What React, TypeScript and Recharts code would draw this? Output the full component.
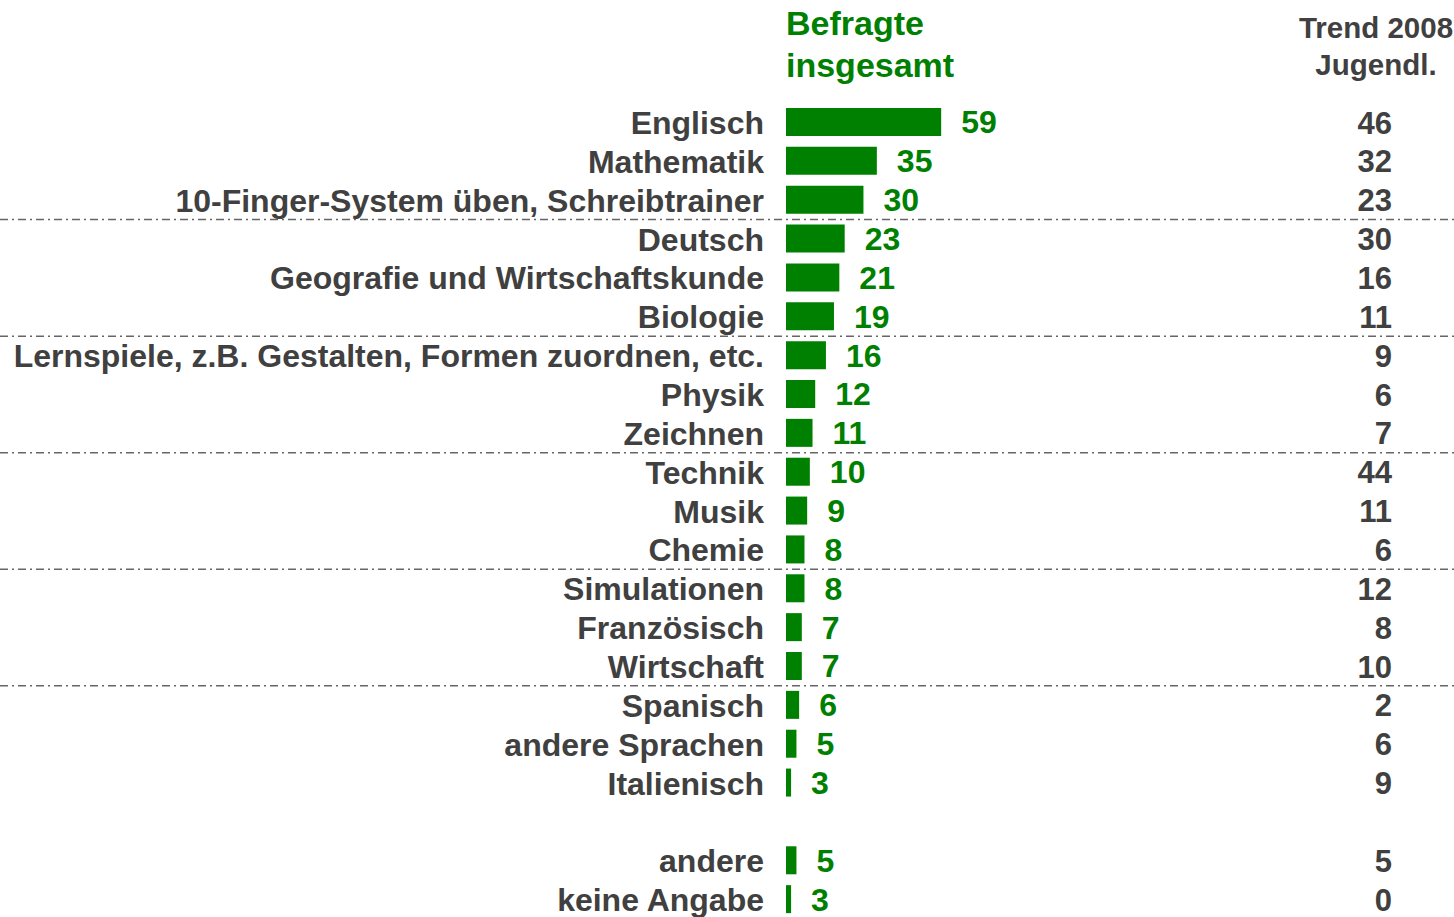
import { BarChart, Bar, XAxis, YAxis, LabelList } from 'recharts'

const categories = [
  'Englisch',
  'Mathematik',
  '10-Finger-System üben, Schreibtrainer',
  'Deutsch',
  'Geografie und Wirtschaftskunde',
  'Biologie',
  'Lernspiele, z.B. Gestalten, Formen zuordnen, etc.',
  'Physik',
  'Zeichnen',
  'Technik',
  'Musik',
  'Chemie',
  'Simulationen',
  'Französisch',
  'Wirtschaft',
  'Spanisch',
  'andere Sprachen',
  'Italienisch',
  ' ',
  'andere',
  'keine Angabe',
]

const befragte: (number | null)[] = [59, 35, 30, 23, 21, 19, 16, 12, 11, 10, 9, 8, 8, 7, 7, 6, 5, 3, null, 5, 3]
const trend2008: (number | null)[] = [46, 32, 23, 30, 16, 11, 9, 6, 7, 44, 11, 6, 12, 8, 10, 2, 6, 9, null, 5, 0]

// rows after which a dash-dot separator is drawn
const groupEnds = [2, 5, 8, 11, 14]

const data = categories.map((name, i) => ({ name, value: befragte[i], trend: trend2008[i] }))

const FONT = '"Liberation Sans", Arial, sans-serif'
const GREEN = '#008000'
const GREY = '#404040'
const W = 1454
const H = 919
const TOP = 103
const ROW = (H - TOP) / categories.length

const LeftTick = (props: any) => {
  const { x, y, payload, index } = props
  return (
    <g>
      <text x={x} y={y} dy='0.36em' textAnchor='end' fill={GREY} fontSize={32} fontWeight='bold' fontFamily={FONT}>
        {payload.value}
      </text>
      {groupEnds.includes(index) && (
        <line x1={0} x2={W} y1={y + ROW / 2} y2={y + ROW / 2} stroke='#666' strokeWidth={1.5} strokeDasharray='8 4 2 4' />
      )}
    </g>
  )
}

const RightTick = (props: any) => {
  const { x, y, index } = props
  const v = trend2008[index]
  if (v === null || v === undefined) return <g />
  return (
    <text x={x + 152} y={y} dy='0.36em' textAnchor='end' fill={GREY} fontSize={31} fontWeight='bold' fontFamily={FONT}>
      {v}
    </text>
  )
}

export default function App() {
  return (
    <div style={{ position: 'absolute', left: 0, top: 0, width: W, height: 917, overflow: 'hidden', fontFamily: FONT }}>
      <div style={{ position: 'absolute', left: 786, top: 2, color: GREEN, fontSize: 34, fontWeight: 'bold', lineHeight: '42px' }}>
        Befragte
        <br />
        insgesamt
      </div>
      <div style={{ position: 'absolute', left: 1276, width: 200, top: 9, color: GREY, fontSize: 29.5, fontWeight: 'bold', lineHeight: '37px', textAlign: 'center' }}>
        Trend 2008
        <br />
        Jugendl.
      </div>
      <BarChart
        width={W}
        height={H}
        data={data}
        layout='vertical'
        margin={{ top: TOP, right: 0, bottom: 0, left: 0 }}
        barSize={28}
      >
        <XAxis type='number' domain={[1.1, 170.5]} hide allowDataOverflow />
        <YAxis yAxisId='l' type='category' dataKey='name' width={786} tickSize={0} tickMargin={22} axisLine={false} tickLine={false} tick={LeftTick} interval={0} />
        <YAxis yAxisId='r' orientation='right' type='category' dataKey='name' width={214} tickSize={0} tickMargin={0} axisLine={false} tickLine={false} tick={RightTick} interval={0} />
        <Bar yAxisId='l' dataKey='value' fill={GREEN} isAnimationActive={false}>
          <LabelList
            dataKey='value'
            position='right'
            offset={20}
            fill={GREEN}
            fontSize={32}
            fontWeight='bold'
            fontFamily={FONT}
            formatter={(v: any) => (v === null || v === undefined ? '' : v)}
          />
        </Bar>
      </BarChart>
    </div>
  )
}
